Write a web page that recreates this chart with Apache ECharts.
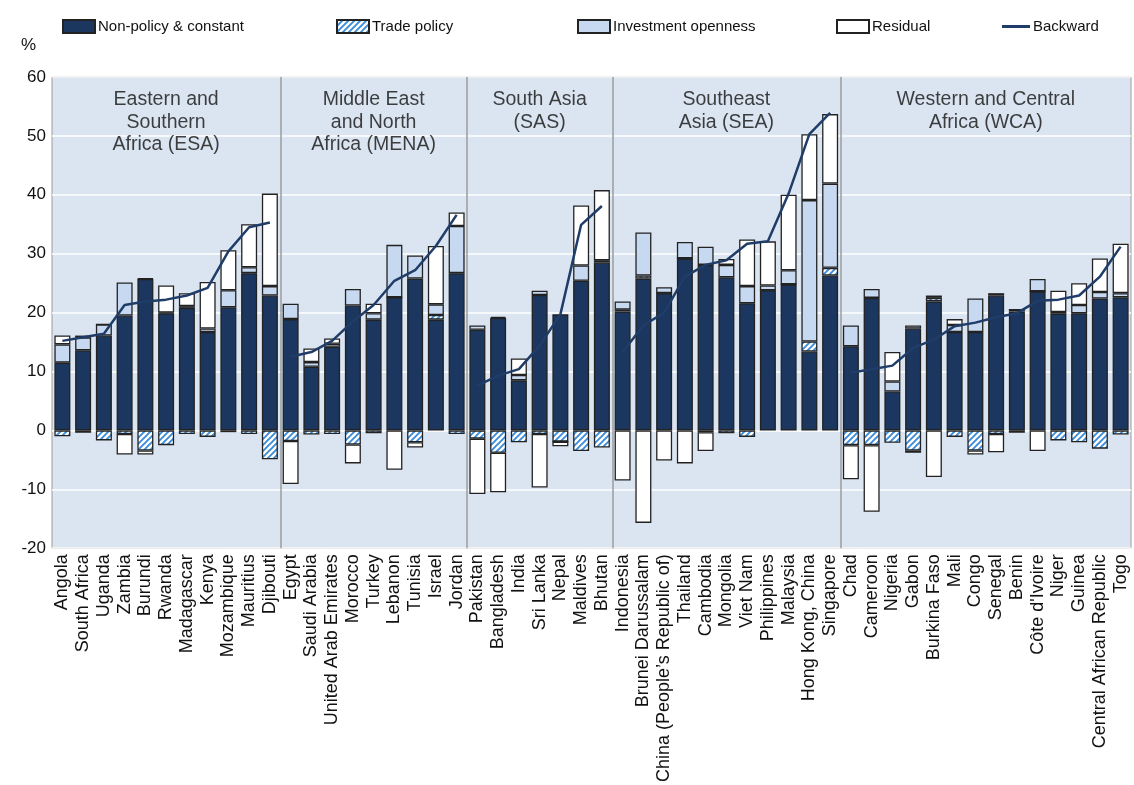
<!DOCTYPE html>
<html>
<head>
<meta charset="utf-8">
<script src="https://cdn.jsdelivr.net/npm/echarts@6/dist/echarts.min.js"></script>
<style>
  html, body { margin: 0; padding: 0; background: #fff; }
  #chart { width: 1134px; height: 785px; }
</style>
</head>
<body>
<div id="chart"></div>
<script>
// regions, in order, with how many countries each holds
const groupLabels = [
  'Eastern and\nSouthern\nAfrica (ESA)',
  'Middle East\nand North\nAfrica (MENA)',
  'South Asia\n(SAS)',
  'Southeast\nAsia (SEA)',
  'Western and Central\nAfrica (WCA)'
];
const groupSizes = [11, 9, 7, 11, 14];

const countries = [
  'Angola', 'South Africa', 'Uganda', 'Zambia', 'Burundi', 'Rwanda', 'Madagascar', 'Kenya', 'Mozambique', 'Mauritius', 'Djibouti',
  'Egypt', 'Saudi Arabia', 'United Arab Emirates', 'Morocco', 'Turkey', 'Lebanon', 'Tunisia', 'Israel', 'Jordan',
  'Pakistan', 'Bangladesh', 'India', 'Sri Lanka', 'Nepal', 'Maldives', 'Bhutan',
  'Indonesia', 'Brunei Darussalam', 'China (People\u2019s Republic of)', 'Thailand', 'Cambodia', 'Mongolia', 'Viet Nam', 'Philippines', 'Malaysia', 'Hong Kong, China', 'Singapore',
  'Chad', 'Cameroon', 'Nigeria', 'Gabon', 'Burkina Faso', 'Mali', 'Congo', 'Senegal', 'Benin', 'C\u00f4te d\'Ivoire', 'Niger', 'Guinea', 'Central African Republic', 'Togo'
];

const nonPolicy = [
  11.5, 13.6, 16.1, 19.5, 25.7, 19.9, 20.8, 16.7, 20.9, 26.7, 22.9,
  18.9, 10.8, 14.2, 21.2, 18.8, 22.6, 25.8, 18.8, 26.7,
  17.1, 19.1, 8.5, 23.0, 19.7, 25.4, 28.5,
  20.2, 25.8, 23.3, 29.2, 28.1, 26.0, 21.6, 23.8, 24.8, 13.4, 26.3,
  14.3, 22.5, 6.6, 17.3, 21.9, 16.7, 16.7, 22.9, 20.2, 23.6, 19.8, 19.9, 22.4, 22.6
];
const tradePolicy = [
  -1.0, -0.4, -1.7, -0.6, -3.4, -2.5, -0.6, -1.1, -0.3, -0.6, -4.9,
  -1.8, -0.7, -0.6, -2.4, -0.5, 0, -2.0, 0.8, -0.6,
  -1.4, -3.8, -2.0, -0.6, -1.9, -3.5, -2.9,
  0.3, 0.5, 0, 0, -0.3, -0.5, -1.1, 0, 0, 1.7, 1.3,
  -2.5, -2.5, -2.1, -3.4, 0.6, -1.1, -3.4, -0.6, -0.4, 0, -1.7, -2.0, -3.1, -0.7
];
const investment = [
  3.1, 2.2, 1.9, 5.6, 0.1, 0.1, 0.3, 0.6, 2.9, 1.0, 1.6,
  2.6, 0.8, 0.5, 2.8, 1.1, 8.9, 3.9, 1.8, 8.0,
  0.7, 0.2, 0.9, 0.7, 0, 2.6, 0.4,
  1.4, 7.3, 1.0, 2.8, 3.1, 2.1, 2.9, 0.8, 2.4, 24.0, 14.3,
  3.5, 1.5, 1.7, 0.5, 0.4, 1.2, 5.7, 0.4, 0.3, 2.1, 0.3, 1.4, 1.1, 0.7
];
const residual = [
  1.5, 0.3, 0, -3.5, -0.7, 4.6, 2.2, 7.9, 6.8, 7.3, 15.7,
  -7.3, 2.3, 0.9, -3.2, 1.6, -6.7, -0.9, 9.9, 2.3,
  -9.4, -6.7, 2.8, -9.1, -0.8, 10.2, 11.9,
  -8.5, -15.7, -5.1, -5.6, -3.2, 1.0, 7.9, 7.5, 12.8, 11.2, 11.8,
  -5.8, -11.3, 5.0, -0.4, -7.9, 1.0, -0.7, -3.1, 0, -3.5, 3.6, 3.7, 5.7, 8.4
];
const backward = [
  15.2, 15.8, 16.4, 21.3, 21.9, 22.2, 22.9, 24.2, 30.4, 34.5, 35.3,
  12.5, 13.3, 15.2, 18.5, 21.3, 25.4, 27.2, 31.3, 36.6,
  7.6, 9.3, 10.4, 14.4, 19.7, 34.9, 38.1,
  13.3, 17.8, 20.0, 26.1, 28.1, 28.9, 31.7, 32.1, 40.2, 50.3, 53.9,
  9.8, 10.4, 11.0, 14.0, 15.4, 17.7, 18.3, 19.2, 19.9, 22.0, 22.2, 22.9, 26.1, 31.2
];

const NAVY = '#1b365f';
const LINE = '#1f3d68';
const LIGHT = '#c6d9f0';
const FONT = "'Liberation Sans', Arial, sans-serif";

function hatch() {
  const c = document.createElement('canvas');
  c.width = 6; c.height = 6;
  const g = c.getContext('2d');
  g.fillStyle = '#ffffff';
  g.fillRect(0, 0, 6, 6);
  g.strokeStyle = '#3a8cdb';
  g.lineWidth = 1.9;
  g.beginPath();
  g.moveTo(-1, 7); g.lineTo(7, -1);
  g.moveTo(-4, 4); g.lineTo(4, -4);
  g.moveTo(2, 10); g.lineTo(10, 2);
  g.stroke();
  return c;
}

// group starts / centres on a 0..N value scale laid over the category axis
const starts = [];
let acc = 0;
groupSizes.forEach(n => { starts.push(acc); acc += n; });
const total = acc;
const boundaries = starts.slice(1);
const centres = starts.map((s, i) => s + groupSizes[i] / 2);

const chart = echarts.init(document.getElementById('chart'));

function barSeries(name, data, color) {
  return {
    name: name,
    type: 'bar',
    stack: 'all',
    data: data,
    barWidth: 16,
    itemStyle: { color: color, borderColor: '#222', borderWidth: 1.3 },
    emphasis: { disabled: true }
  };
}

const lineSeries = groupSizes.map((n, gi) => ({
  name: 'Backward',
  type: 'line',
  data: backward.map((v, i) => (i >= starts[gi] && i < starts[gi] + n) ? v : '-'),
  symbol: 'none',
  lineStyle: { color: LINE, width: 2.5 },
  itemStyle: { color: LINE },
  z: 5,
  emphasis: { disabled: true }
}));

const legendItems = [
  { name: 'Non-policy & constant', left: 62 },
  { name: 'Trade policy', left: 336 },
  { name: 'Investment openness', left: 577 },
  { name: 'Residual', left: 836 },
  { name: 'Backward', left: 1002 }
];

chart.setOption({
  animation: false,
  textStyle: { fontFamily: FONT },
  legend: legendItems.map(l => {
    const isLine = l.name === 'Backward';
    return {
      data: [{ name: l.name, icon: 'rect' }],
      left: l.left,
      top: 19,
      padding: 0,
      itemWidth: isLine ? 28 : 32,
      itemHeight: isLine ? 3 : 13,
      itemGap: 4,
      selectedMode: false,
      textStyle: { fontSize: 15, color: '#111', fontFamily: FONT, padding: [0, 0, 0, -2] }
    };
  }),
  graphic: [{
    type: 'text',
    left: 21,
    top: 37,
    style: { text: '%', fontSize: 17, fill: '#111', fontFamily: FONT }
  }],
  grid: {
    left: 52,
    right: 3,
    top: 77,
    bottom: 234,
    show: true,
    backgroundColor: '#dbe5f1',
    borderColor: '#9c9c9c',
    borderWidth: 1
  },
  xAxis: [{
    type: 'category',
    data: countries,
    axisLine: { show: false },
    axisTick: { show: false },
    axisLabel: {
      interval: 0,
      rotate: 90,
      fontSize: 18,
      color: '#111',
      margin: 6,
      fontFamily: FONT
    }
  }, {
    type: 'value',
    min: 0,
    max: total,
    show: false
  }],
  yAxis: {
    type: 'value',
    min: -20,
    max: 60,
    interval: 10,
    axisLine: { show: false },
    axisTick: { show: false },
    axisLabel: { fontSize: 17, color: '#111', margin: 6, fontFamily: FONT },
    splitLine: { lineStyle: { color: '#ffffff', width: 1.5 } }
  },
  series: [
    barSeries('Non-policy & constant', nonPolicy, NAVY),
    barSeries('Trade policy', tradePolicy, { image: hatch(), repeat: 'repeat' }),
    barSeries('Investment openness', investment, LIGHT),
    barSeries('Residual', residual, '#ffffff'),
    ...lineSeries,
    {
      type: 'scatter',
      xAxisIndex: 1,
      symbolSize: 0,
      silent: true,
      data: groupLabels.map((t, i) => ({ value: [centres[i], 58.0], name: t })),
      label: {
        show: true,
        position: 'bottom',
        distance: 0,
        formatter: '{b}',
        fontSize: 19.5,
        lineHeight: 22.5,
        color: '#111',
        align: 'center',
        fontFamily: FONT
      },
      markLine: {
        silent: true,
        symbol: ['none', 'none'],
        label: { show: false },
        lineStyle: { color: '#9c9c9c', type: 'solid', width: 1.5 },
        data: boundaries.map(b => ({ xAxis: b }))
      },
      z: 6
    }
  ]
});
</script>
</body>
</html>
